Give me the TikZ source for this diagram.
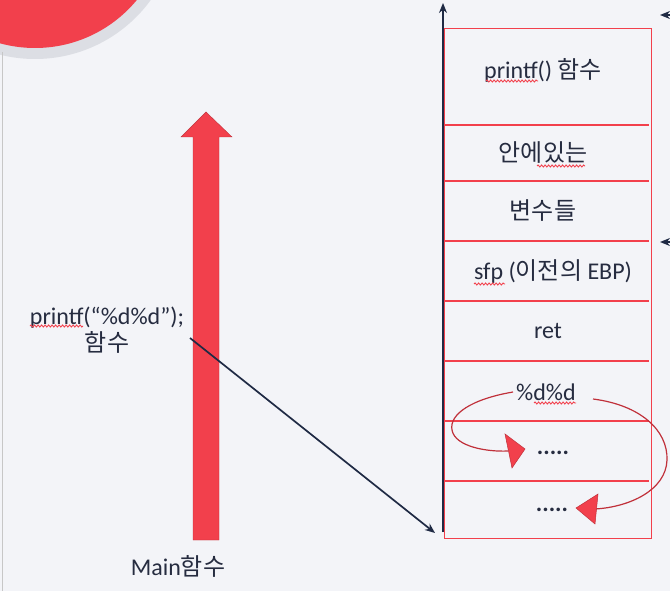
\documentclass[tikz,border=0pt]{standalone}
\usepackage{fontspec}
\setmainfont{Carlito}
\newfontfamily\krfont{Noto Sans CJK KR}
\usetikzlibrary{arrows.meta,decorations.pathmorphing}
\definecolor{bg}{HTML}{F3F4F8}
\definecolor{ring}{HTML}{DCDEE4}
\definecolor{redA}{HTML}{F2404C}
\definecolor{redB}{HTML}{C0303A}
\definecolor{ink}{HTML}{262C40}
\definecolor{navy}{HTML}{1F2A44}
\newcommand\kr[1]{{\krfont #1}}
\newcommand\lf{\fontsize{24}{28}\selectfont}
\tikzset{
  lbl/.style={text=ink, font=\lf, inner sep=0pt, align=center},
  divider/.style={draw=redA, line width=1.8pt},
  curvearr/.style={draw=redB, line width=1.2pt},
  tri/.style={fill=redA, draw=redB, line width=0.5pt},
  darkarr/.style={draw=navy, line width=1.7pt, -{Stealth[length=10pt,width=8pt]}},
  squigl/.style={draw=redA, line width=0.9pt, decorate,
    decoration={snake, amplitude=1pt, segment length=3.5pt}}
}
\begin{document}
\begin{tikzpicture}[x=1pt,y=-1pt]
\useasboundingbox (0,0) rectangle (670,591);
\fill[bg] (0,0) rectangle (670,591);
\begin{scope}
\clip (0,0) rectangle (670,591);
\fill[ring] (35,-84) circle (143);
\fill[redA] (35,-84) circle (132);
\end{scope}
% left thin line
\draw[color=black!22, line width=0.8pt] (2,52) -- (2,591);
% big red arrow
\filldraw[fill=redA, draw=redB, line width=0.4pt]
  (193,540) -- (193,137) -- (181,137) -- (206,112) -- (232,137) -- (219,137) -- (219,540) -- cycle;
% labels left
\node[lbl] (call1) at (107,318) {printf(“\%d\%d”);};
\node[lbl] (call2) at (107,342) {\kr{함수}};
\node[lbl] (maintxt) at (178,566) {Main\kr{함수}};
% stack frame
\draw[draw=redA, line width=0.9pt] (444,28) rectangle (651,538);
\foreach \yy in {125,181,241,301,361,421,481}
  \draw[divider] (444,\yy) -- (649,\yy);
\node[lbl] (s1) at (543,70) {printf() \kr{함수}};
\node[lbl] (s2) at (543,153) {\kr{안에있는}};
\node[lbl] (s3) at (543,211) {\kr{변수들}};
\node[lbl] (s4) at (553,272) {sfp (\kr{이전의} EBP)};
\node[lbl] (s5) at (548,331) {ret};
\node[lbl] (s6) at (546,392) {\%d\%d};
\node[lbl] (s7) at (553,453) {\textbf{.....}};
\node[lbl] (s8) at (552,510) {\textbf{.....}};
% spell-check squiggles
\coordinate (q1a) at (30,326);  \coordinate (q1b) at (83,326);
\coordinate (q2a) at (486,81);  \coordinate (q2b) at (538,81);
\coordinate (q3a) at (537,166); \coordinate (q3b) at (585,166);
\coordinate (q4a) at (474,284); \coordinate (q4b) at (505,284);
\coordinate (q5a) at (534,403); \coordinate (q5b) at (576,403);
\draw[squigl] (q1a) -- (q1b);
\draw[squigl] (q2a) -- (q2b);
\draw[squigl] (q3a) -- (q3b);
\draw[squigl] (q4a) -- (q4b);
\draw[squigl] (q5a) -- (q5b);
% stack axis
\coordinate (axbot) at (443,532);
\coordinate (axtop) at (443,3);
\draw[darkarr, line width=2.2pt] (axbot) -- (axtop);
% pointer line
\coordinate (ptrstart) at (190,338);
\coordinate (ptrend) at (435,533);
\draw[darkarr] (ptrstart) -- (ptrend);
% right edge arrows
\coordinate (offA) at (675,15);
\coordinate (tipA) at (660,15);
\coordinate (offB) at (675,242);
\coordinate (tipB) at (660,242);
\draw[darkarr] (offA) -- (tipA);
\draw[darkarr] (offB) -- (tipB);
% curved red arrows
\draw[curvearr] (513,392) .. controls (472,399) and (449,414) .. (452,430)
  .. controls (455,447) and (488,452) .. (508,451);
\filldraw[tri] (505,434) -- (525,449) -- (512,468) -- cycle;
\draw[curvearr] (593,399) .. controls (640,405) and (668,430) .. (667,460)
  .. controls (666,490) and (630,507) .. (595,509);
\filldraw[tri] (598,494) -- (576,508) -- (595,524) -- cycle;
\end{tikzpicture}
\end{document}
